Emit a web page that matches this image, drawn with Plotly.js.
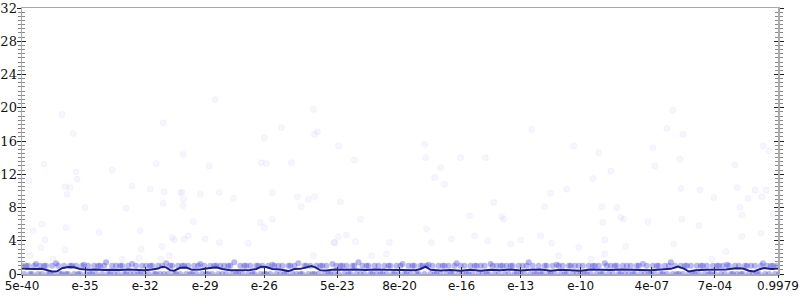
<!DOCTYPE html>
<html>
<head>
<meta charset="utf-8">
<script src="https://cdn.plot.ly/plotly-3.0.1.min.js"></script>
<style>html,body{margin:0;padding:0;background:#fff}#chart{width:800px;height:300px}</style>
</head>
<body>
<div id="chart"></div>
<script>
// x axis: rank position (0..755); tick labels
const tickPositions = [0, 63, 123, 183, 242, 315, 377, 439, 498, 558, 629, 692, 755];
const tickLabels = ["5e-40", "e-35", "e-32", "e-29", "e-26", "5e-23", "8e-20", "e-16", "e-13", "e-10", "4e-07", "7e-04", "0.9979"];

// scattered high values (rank, value)
const outlierX = [40,141,51,22,134,54,90,7,55,43,48,45,110,128,142,141,63,104,20,11,44,118,77,23,150,152,19,140,119,43,8,147,31,100,117,139,158,
  193,291,259,295,292,242,161,239,244,269,187,160,161,161,178,197,211,250,275,279,286,292,171,238,242,250,166,162,183,197,226,312,291,
  316,402,332,403,438,463,418,412,422,318,338,447,404,316,324,312,333,367,409,429,452,465,349,364,
  509,551,576,588,570,544,528,471,522,579,594,479,481,598,601,580,518,582,488,498,529,556,603,536,582,568,
  650,644,660,740,746,630,657,632,712,658,677,714,732,743,691,725,739,717,719,750,625,659,676,738,719,651,703,689];
const outlierY = [19.2,18.2,16.9,13.2,13.3,12.3,12.5,11.2,11.4,10.5,10.4,9.6,10.6,10.2,9.9,8.5,8.0,7.9,6.0,5.2,5.6,5.2,5.0,4.1,4.4,4.1,3.2,3.3,3.0,2.9,2.2,2.2,1.8,1.8,1.9,1.8,9.8,
  21.0,19.8,17.6,17.1,16.8,16.4,14.4,13.4,13.3,13.4,13.0,9.8,9.0,8.2,9.6,9.8,9.1,9.8,9.3,8.1,9.0,9.3,6.3,6.2,5.6,6.6,4.6,4.2,4.2,3.8,3.7,3.8,2.2,
  15.4,15.6,13.7,14.0,14.0,14.0,12.8,11.6,10.8,8.7,6.6,7.0,5.4,4.5,4.7,3.8,3.9,3.8,3.8,4.2,4.6,4.0,2.2,2.4,
  17.4,15.4,14.6,12.4,11.5,10.2,9.7,8.6,8.1,8.1,8.0,6.9,6.6,6.8,6.6,6.2,4.6,4.1,3.6,4.1,3.7,3.2,3.3,2.2,2.4,1.8,
  19.7,17.5,16.8,15.4,14.8,15.2,13.8,13.0,13.1,10.3,10.1,10.4,10.1,10.1,9.2,9.1,9.3,8.0,7.1,7.2,6.3,6.6,5.8,4.9,4.5,3.6,2.7,1.8];

// dense band of values near 0 and 1 (one value every 2 rank units)
const bandY = [
  1,0,1,1,0,0,1,1.2,0,1,0,1,1,0,0,1,0,1.3,1,0,
  0,1,0,0,1,1,0,1,0,0,1,1.1,0,1,0,0,1,0,1,1,
  0,1,1.4,0,0,1,0,1,0,1,1,0,0,1,0,1.2,0,1,0,0,
  1,0,1,0,1,1,0,0,1,0,1,0,1.3,0,1,1,0,0,1,0,
  1,1,0,1,0,0,1,0,1,1.2,0,1,0,0,1,0,1,1,0,1,
  0,1,0,1,1,0,1.4,0,0,1,0,1,1,0,1,0,0,1,1,0,
  1,0,0,1,0,1.1,1,0,1,0,1,0,0,1,1,0,1,0,1.3,0,
  0,1,1,0,1,0,0,1,0,1,1,0,1,0,0,1.2,0,1,0,1,
  1,0,1,0,0,1,1,0,1.4,0,1,0,1,1,0,0,1,0,1,0,
  0,1,0,1,1,0,0,1,0,1,1.2,0,0,1,0,1,1,0,0,1,
  1,0,1,1.1,0,1,0,0,1,0,1,1,0,1,0,0,1,1.3,0,1,
  0,1,0,0,1,0,1,1,0,1,0,1,0,0,1.2,1,0,1,0,1,
  1,0,1,0,1,1,0,0,1,0,1,0,1,1.4,0,1,0,0,1,0,
  0,1,1,0,0,1,0,1.1,1,0,1,0,0,1,1,0,1,0,1,0,
  1,0,0,1,0,1,1,0,1,0,0,1.3,1,0,1,0,1,1,0,0,
  1,0,1,0,1,0,0,1,1,0,1.2,0,1,0,0,1,0,1,1,0,
  0,1,0,1,1.4,0,1,0,0,1,0,1,1,0,1,0,0,1,0,1,
  1,0,1,0,0,1,0,1,1,0,1,0,1.1,1,0,0,1,0,1,0,
  0,1,1,0,1,0,1,0,0,1,1.3,0,1,0,1,1,0,1,0,1];

// running mean line
const lineX = [0,6,13,20,25,30,35,40,46,52,58,66,74,82,90,98,106,114,122,130,136,140,144,148,152,158,164,170,178,186,194,200,208,218,228,234,239,244,250,258,266,272,278,284,289,293,298,304,312,323,333,343,353,363,373,383,393,398,403,408,418,428,438,448,458,468,478,488,498,508,518,528,538,548,558,568,578,588,598,608,618,628,638,648,655,661,666,673,683,693,703,713,720,726,731,736,741,748,755];
const lineY = [0.62,0.65,0.6,0.62,0.5,0.3,0.32,0.7,0.85,0.8,0.6,0.5,0.55,0.48,0.52,0.47,0.55,0.48,0.45,0.55,0.65,0.88,0.8,0.45,0.4,0.75,0.78,0.5,0.55,0.7,0.82,0.6,0.45,0.45,0.48,0.6,0.88,0.85,0.6,0.55,0.35,0.6,0.62,0.8,0.95,0.8,0.45,0.42,0.55,0.5,0.55,0.48,0.55,0.5,0.5,0.42,0.45,0.6,0.88,0.5,0.42,0.48,0.4,0.5,0.38,0.5,0.45,0.55,0.42,0.5,0.55,0.38,0.52,0.45,0.4,0.55,0.5,0.48,0.55,0.5,0.52,0.45,0.55,0.62,0.9,0.65,0.3,0.45,0.5,0.48,0.55,0.7,0.65,0.4,0.3,0.55,0.72,0.6,0.62];

const yTickVals = [0,4,8,12,16,20,24,28,32];

const bandX = bandY.map((_, i) => i * 2);

const traces = [
  {x: outlierX, y: outlierY, type: 'scatter', mode: 'markers', hoverinfo: 'skip', cliponaxis: true,
   marker: {size: 6, color: 'rgba(40,40,235,0.045)', line: {width: 1, color: 'rgba(40,40,235,0.04)'}}},
  {x: bandX, y: bandY, type: 'scatter', mode: 'markers', hoverinfo: 'skip', cliponaxis: true,
   marker: {size: 6, color: 'rgba(40,40,235,0.33)', line: {width: 0}}},
  {x: lineX, y: lineY, type: 'scatter', mode: 'lines', hoverinfo: 'skip',
   line: {color: '#1c1c88', width: 2}}
];

const xBase = {range: [0, 755], tickmode: 'array', tickvals: tickPositions, showgrid: false, zeroline: false, fixedrange: true};
const yBase = {range: [0, 32], tickmode: 'array', tickvals: yTickVals, showgrid: false, zeroline: false, fixedrange: true};

const layout = {
  width: 800, height: 300,
  margin: {l: 22, r: 22, t: 8, b: 26, pad: 0},
  paper_bgcolor: '#fff', plot_bgcolor: '#fff',
  showlegend: false,
  xaxis: Object.assign({}, xBase, {
    ticktext: tickLabels, ticks: 'inside', ticklen: 7, tickwidth: 1, tickcolor: '#333',
    showline: true, linecolor: '#aaa', linewidth: 1.5, mirror: true,
    tickfont: {family: 'DejaVu Sans', size: 12, color: '#111'}
  }),
  xaxis2: Object.assign({}, xBase, {
    overlaying: 'x', side: 'bottom', anchor: 'y', showticklabels: false,
    ticks: 'outside', ticklen: 3, tickwidth: 1, tickcolor: '#333', showline: false
  }),
  yaxis: Object.assign({}, yBase, {
    ticks: 'outside', ticklen: 4, tickwidth: 1, tickcolor: '#222',
    showline: true, linecolor: '#aaa', linewidth: 1.5, mirror: 'ticks',
    ticklabelstandoff: -3,
    tickfont: {family: 'DejaVu Serif', size: 13, color: '#111'},
    minor: {dtick: 0.5, ticks: 'outside', ticklen: 3, tickcolor: '#888', tickwidth: 1, showgrid: false}
  }),
  yaxis2: Object.assign({}, yBase, {
    overlaying: 'y', side: 'left', anchor: 'x', showticklabels: false,
    ticks: 'inside', ticklen: 4, tickwidth: 1, tickcolor: '#222', mirror: 'ticks', showline: false,
    minor: {dtick: 0.5, ticks: 'inside', ticklen: 3, tickcolor: '#888', tickwidth: 1, showgrid: false}
  })
};

// empty trace to activate the secondary axes (no visible marks)
traces.push({x: [], y: [], xaxis: 'x2', yaxis: 'y2', type: 'scatter', mode: 'markers', hoverinfo: 'skip'});

Plotly.newPlot('chart', traces, layout, {staticPlot: true, displayModeBar: false});
</script>
</body>
</html>
